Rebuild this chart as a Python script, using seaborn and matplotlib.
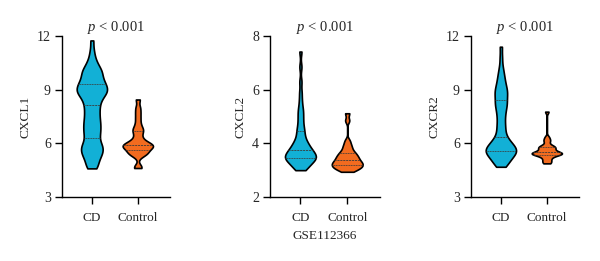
import numpy as np
import pandas as pd
import matplotlib
matplotlib.use("Agg")
import matplotlib.pyplot as plt
import seaborn as sns

groups = ["CD", "Control"]
genes = ["CXCL1", "CXCL2", "CXCR2"]
ylims = [(3, 12), (2, 8), (3, 12)]
yticks = [[3, 6, 9, 12], [2, 4, 6, 8], [3, 6, 9, 12]]
ptext = ["$p$ < 0.001", "$p$ < 0.001", "$p$ < 0.001"]
dataset_label = "GSE112366"

cxcl1_cd = [4.6, 4.65, 4.8, 4.95, 5.1, 5.2, 5.3, 5.4, 5.45, 5.55, 5.6, 5.7, 5.75,
            5.85, 5.9, 5.95, 6.1, 6.2, 6.35, 6.45, 6.55, 6.65, 6.75, 6.85, 6.95,
            7.05, 7.15, 7.25, 7.35, 7.45, 7.6, 7.7, 7.8, 7.9, 8.05, 8.15, 8.25, 8.35,
            8.45, 8.55, 8.62, 8.7, 8.78, 8.8, 8.85, 8.92, 8.98, 9.0, 9.03, 9.1, 9.17,
            9.24, 9.31, 9.35, 9.38, 9.45, 9.55, 9.63, 9.72, 9.8, 9.88, 9.96, 10.05,
            10.1, 10.18, 10.3, 10.45, 10.6, 10.85, 11.2, 11.75]
cxcl1_ctrl = [4.62, 4.7, 5.3, 5.4, 5.45, 5.5, 5.6, 5.7, 5.75, 5.8, 5.85, 5.88, 5.9,
              5.95, 6.0, 6.1, 6.2, 6.4, 6.6, 6.75, 6.85, 7.1, 7.4, 7.7, 8.0, 8.45]
cxcl2_cd = [3.0, 3.05, 3.1, 3.15, 3.2, 3.24, 3.28, 3.32, 3.36, 3.39, 3.42, 3.44,
            3.45, 3.46, 3.48, 3.5, 3.53, 3.56, 3.59, 3.62, 3.65, 3.68, 3.71, 3.74,
            3.77, 3.8, 3.85, 3.9, 3.95, 4.0, 4.05, 4.1, 4.2, 4.3, 4.4, 4.5, 4.6,
            4.75, 4.9, 5.05, 5.2, 5.35, 5.6, 5.9, 6.3, 6.85, 7.42]
cxcl2_ctrl = [2.94, 3.0, 3.05, 3.08, 3.11, 3.14, 3.17, 3.2, 3.24, 3.28, 3.32, 3.36,
              3.4, 3.44, 3.48, 3.52, 3.57, 3.62, 3.67, 3.75, 3.85, 3.95, 4.1, 3.26,
              4.85, 5.12]
cxcr2_cd = [4.69, 4.78, 4.86, 4.94, 5.02, 5.1, 5.17, 5.23, 5.29, 5.34, 5.39, 5.43,
            5.47, 5.51, 5.55, 5.58, 5.61, 5.64, 5.68, 5.72, 5.76, 5.8, 5.85, 5.9,
            5.96, 6.02, 6.08, 6.15, 6.22, 6.3, 6.45, 6.6, 6.75, 6.9, 7.05, 7.2, 7.4,
            7.55, 7.7, 7.85, 8.0, 8.1, 8.2, 8.3, 8.4, 8.55, 8.65, 8.75, 8.85, 8.95,
            9.05, 9.15, 9.3, 9.45, 9.6, 9.8, 10.0, 10.3, 10.8, 11.4]
cxcr2_ctrl = [4.88, 4.95, 5.05, 5.15, 5.25, 5.32, 5.36, 5.39, 5.41, 5.42, 5.44, 5.46,
              5.48, 5.5, 5.53, 5.6, 5.68, 5.72, 5.76, 5.8, 5.85, 5.9, 6.1, 6.2, 6.35,
              7.77]

series = [(cxcl1_cd, cxcl1_ctrl), (cxcl2_cd, cxcl2_ctrl), (cxcr2_cd, cxcr2_ctrl)]
palette = {"CD": "#12B0D6", "Control": "#F26B1F"}

sns.set_style("ticks")
plt.rcParams["font.family"] = ["Liberation Serif", "DejaVu Serif"]
plt.rcParams["mathtext.fontset"] = "custom"
plt.rcParams["mathtext.it"] = "Liberation Serif:italic"
plt.rcParams["mathtext.rm"] = "Liberation Serif"

fig = plt.figure(figsize=(6.0, 2.61), dpi=100)
lefts = [0.1033, 0.45, 0.785]
widths = [0.18, 0.1833, 0.18]

for i in range(3):
    ax = fig.add_axes([lefts[i], 0.2452, widths[i], 0.617])
    cd, ctrl = series[i]
    df = pd.DataFrame({"group": ["CD"] * len(cd) + ["Control"] * len(ctrl),
                       "value": list(cd) + list(ctrl)})
    sns.violinplot(data=df, x="group", y="value", hue="group", order=groups,
                   hue_order=groups, palette=palette, saturation=1, legend=False,
                   cut=0, density_norm="width", width=0.66, bw_adjust=0.35,
                   inner="quart", linewidth=1.2, linecolor="black",
                   inner_kws=dict(linewidth=0.6, color="#3a3a3a"), ax=ax)
    ax.set_xlim(-0.65, 1.7)
    ax.set_ylim(*ylims[i])
    ax.set_yticks(yticks[i])
    ax.set_ylabel(genes[i], fontsize=9.5, labelpad=4)
    ax.set_xlabel(dataset_label if i == 1 else "", fontsize=9.5, labelpad=4)
    ax.set_title(ptext[i], fontsize=10.5, pad=3)
    for s in ["top", "right"]:
        ax.spines[s].set_visible(False)
    for s in ["left", "bottom"]:
        ax.spines[s].set_linewidth(1.0)
        ax.spines[s].set_color("black")
    ax.tick_params(axis="both", width=1.0, length=5, color="black")
    ax.tick_params(axis="y", labelsize=10, pad=3)
    ax.tick_params(axis="x", labelsize=9.5, pad=6)

fig.savefig("out.png", dpi=100)
